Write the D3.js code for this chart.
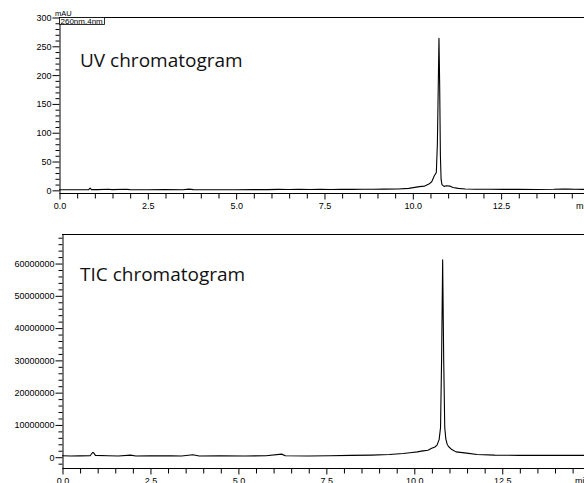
<!DOCTYPE html>
<html>
<head>
<meta charset="utf-8">
<script src="https://cdn.jsdelivr.net/npm/d3@7"></script>
<style>
    body { margin: 0; background: #fff; }
    svg { display: block; }
    .tick text { font-family: "Liberation Sans", Arial, sans-serif; font-size: 9px; fill: #000; }
    .domain, .tick line { stroke: #000; stroke-width: 1; }
</style>
</head>
<body>
<svg id="chart"></svg>
<script>
// retention time ticks (min)
const xMajorTicks = [0, 2.5, 5, 7.5, 10, 12.5];
const xMinorTicks = [0.5, 1, 1.5, 2, 3, 3.5, 4, 4.5, 5.5, 6, 6.5, 7, 8, 8.5, 9, 9.5,
                     10.5, 11, 11.5, 12, 13, 13.5, 14, 14.5];

// UV trace, 260 nm (mAU)
const uvTime  = [0.0, 0.3, 0.6, 0.84, 0.88, 0.92, 1.1, 1.4, 1.5, 1.9, 2.0, 2.5, 3.0, 3.5, 3.68, 3.8,
                 4.5, 5.0, 5.5, 5.9, 6.2, 6.5, 6.8, 7.1, 7.4, 7.7, 8.0, 8.3, 8.6, 8.9, 9.2, 9.6,
                 9.9, 10.2, 10.35, 10.47, 10.55, 10.62, 10.68, 10.71, 10.735, 10.755, 10.775,
                 10.795, 10.815, 10.84, 10.9, 10.97, 11.06, 11.15, 11.3, 11.5, 11.8, 12.2, 12.6,
                 13.0, 13.5, 14.0, 14.25, 14.4, 14.6, 15.0];
const uvValue = [0.2, 0.1, 0.2, 0.3, 3.0, 0.4, 0.3, 0.9, 0.3, 0.9, 0.3, 0.2, 0.3, 0.2, 1.2, 0.3,
                 0.2, 0.2, 0.3, 0.4, 0.8, 0.5, 0.9, 0.6, 1.0, 0.7, 1.0, 0.8, 1.1, 0.9, 1.3, 1.5,
                 2.5, 5.5, 6.5, 10, 14, 24, 30, 80, 180, 263, 180,
                 60, 18, 9, 6, 7, 6.5, 4, 2.5, 1.5, 1.1, 0.9, 0.8,
                 0.8, 0.7, 0.9, 1.5, 1.2, 0.9, 0.8];
const uvYMajor = [0, 50, 100, 150, 200, 250, 300];
const uvYMinor = [10, 20, 30, 40, 60, 70, 80, 90, 110, 120, 130, 140, 160, 170, 180, 190,
                  210, 220, 230, 240, 260, 270, 280, 290];

// TIC trace (counts)
const ticTime  = [0.0, 0.25, 0.5, 0.8, 0.87, 0.9, 0.95, 1.3, 1.6, 1.95, 2.1, 2.5, 2.8, 3.1, 3.4,
                  3.72, 3.9, 4.5, 5.2, 5.8, 6.24, 6.35, 7.0, 7.6, 8.2, 8.8, 9.3, 9.7, 9.95, 10.1,
                  10.26, 10.4, 10.51, 10.6, 10.66, 10.72, 10.76, 10.79, 10.82, 10.85, 10.88,
                  10.91, 10.95, 11.0, 11.08, 11.2, 11.5, 11.8, 12.3, 13.0, 13.8, 14.5, 15.0];
const ticValue = [300000, 200000, 250000, 300000, 1300000, 1200000, 400000, 300000, 200000,
                  500000, 200000, 300000, 250000, 300000, 200000, 600000, 200000, 300000,
                  200000, 300000, 800000, 300000, 200000, 300000, 400000, 500000, 700000,
                  1000000, 1300000, 1500000, 1800000, 2000000, 2600000, 3000000, 3600000,
                  5300000, 9000000, 30000000, 61000000, 30000000, 9000000, 5500000, 3800000,
                  3000000, 2200000, 1500000, 1100000, 700000, 500000, 400000, 400000, 400000, 400000];
const ticYMajor = [0, 10000000, 20000000, 30000000, 40000000, 50000000, 60000000];
const ticYMinor = [-2000000, 2000000, 4000000, 6000000, 8000000, 12000000, 14000000, 16000000,
                   18000000, 22000000, 24000000, 26000000, 28000000, 32000000, 34000000,
                   36000000, 38000000, 42000000, 44000000, 46000000, 48000000, 52000000,
                   54000000, 56000000, 58000000, 62000000, 64000000, 66000000, 68000000];

const width = 584, height = 483;
const svg = d3.select('#chart').attr('width', width).attr('height', height);

function drawPanel(opts) {
    const g = svg.append('g');
    const x = d3.scaleLinear().domain([0, 15]).range([opts.left, opts.left + 15 * opts.pxPerMin]);
    const y = d3.scaleLinear().domain(opts.yDomain).range([opts.bottom, opts.top]);

    // frame top
    g.append('line')
        .attr('x1', opts.left).attr('x2', width)
        .attr('y1', opts.top + 0.5).attr('y2', opts.top + 0.5)
        .attr('stroke', '#000');

    // y axis: minor then major
    g.append('g')
        .attr('transform', `translate(${opts.left + 0.5},0.5)`)
        .call(d3.axisLeft(y).tickValues(opts.yMinor).tickSize(4).tickSizeOuter(0).tickFormat(''))
        .select('.domain').remove();
    g.append('g')
        .attr('transform', `translate(${opts.left + 0.5},0.5)`)
        .call(d3.axisLeft(y).tickValues(opts.yMajor).tickSize(7).tickPadding(1).tickSizeOuter(0)
            .tickFormat(d3.format('d')));

    // x axis
    g.append('g')
        .attr('transform', `translate(0.5,${opts.bottom + 0.5})`)
        .call(d3.axisBottom(x).tickValues(xMinorTicks).tickSize(5).tickSizeOuter(0).tickFormat(''))
        .select('.domain').remove();
    const xa = g.append('g')
        .attr('transform', `translate(0.5,${opts.bottom + 0.5})`)
        .call(d3.axisBottom(x).tickValues(xMajorTicks).tickSize(6).tickPadding(3).tickSizeOuter(0)
            .tickFormat(d3.format('.1f')));
    xa.select('.domain').attr('d', `M${opts.left},0H${width}`);

    g.append('text')
        .attr('x', opts.unitX).attr('y', opts.bottom + 16)
        .style('font-family', '"Liberation Sans", Arial, sans-serif')
        .style('font-size', '9px')
        .text('min');

    // trace
    const line = d3.line()
        .x(d => x(d[0]))
        .y(d => y(d[1]));
    g.append('path')
        .datum(d3.zip(opts.time, opts.value))
        .attr('fill', 'none')
        .attr('stroke', '#000')
        .attr('stroke-width', 1.1)
        .attr('stroke-linejoin', 'round')
        .attr('d', line);

    // panel title
    g.append('text')
        .attr('x', 80).attr('y', opts.titleY)
        .style('font-family', '"Open Sans", sans-serif')
        .style('font-size', '19px')
        .style('fill', '#111')
        .text(opts.title);

    return g;
}

const uvPanel = drawPanel({
    left: 59, top: 17, bottom: 193, pxPerMin: 35.33,
    yDomain: [-5.5, 300], yMajor: uvYMajor, yMinor: uvYMinor,
    time: uvTime, value: uvValue,
    title: 'UV chromatogram', titleY: 67, unitX: 576
});

// detector labels on the UV panel
uvPanel.append('text')
    .attr('x', 55).attr('y', 16)
    .style('font-family', '"Liberation Sans", Arial, sans-serif')
    .style('font-size', '7.5px')
    .text('mAU');
uvPanel.append('rect')
    .attr('x', 59.5).attr('y', 17.5).attr('width', 45).attr('height', 7)
    .attr('fill', '#fff').attr('stroke', '#000').attr('stroke-width', 0.8);
uvPanel.append('text')
    .attr('x', 60.5).attr('y', 23.6)
    .style('font-family', '"Liberation Sans", Arial, sans-serif')
    .style('font-size', '8px')
    .text('260nm,4nm');

drawPanel({
    left: 62, top: 234, bottom: 468, pxPerMin: 35.18,
    yDomain: [-3500000, 69000000], yMajor: ticYMajor, yMinor: ticYMinor,
    time: ticTime, value: ticValue,
    title: 'TIC chromatogram', titleY: 281, unitX: 575
});
</script>
</body>
</html>
